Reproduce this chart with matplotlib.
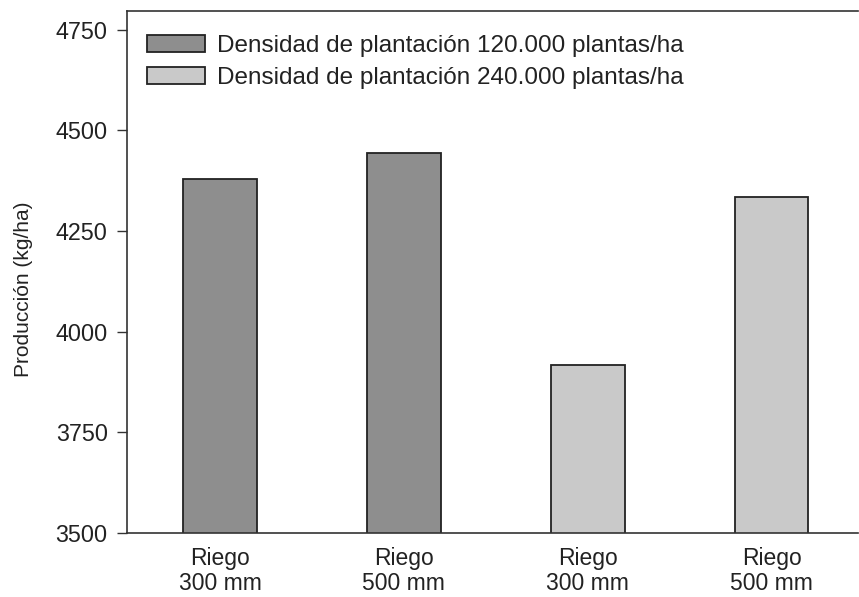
import matplotlib

matplotlib.use("Agg")
import matplotlib.pyplot as plt
import numpy as np

# datos
categorias = ["Riego\n300 mm", "Riego\n500 mm", "Riego\n300 mm", "Riego\n500 mm"]
produccion = [4380, 4444, 3917, 4335]
grupo = [0, 0, 1, 1]
etiquetas_serie = [
    "Densidad de plantación 120.000 plantas/ha",
    "Densidad de plantación 240.000 plantas/ha",
]
colores_serie = ["#8e8e8e", "#c9c9c9"]
yticks = [3500, 3750, 4000, 4250, 4500, 4750]

plt.rcParams["font.family"] = ["Liberation Sans", "DejaVu Sans"]

fig = plt.figure(figsize=(8.59, 5.97), dpi=100)
ax = fig.add_axes([0.148, 0.107, 0.851, 0.875])

x = np.arange(len(categorias))
for i, g in enumerate(sorted(set(grupo))):
    idx = [k for k, gg in enumerate(grupo) if gg == g]
    ax.bar(
        x[idx],
        [produccion[k] for k in idx],
        width=0.4,
        color=colores_serie[i],
        edgecolor="#222222",
        linewidth=1.3,
        label=etiquetas_serie[i],
        zorder=2,
    )

ax.set_xlim(-0.505, 3.47)
ax.set_ylim(3500, 4797)
ax.set_yticks(yticks)
ax.set_yticklabels([str(v) for v in yticks], fontsize=16.8, color="#222222")
ax.set_xticks(x)
ax.set_xticklabels(categorias, fontsize=16.5, color="#222222", linespacing=1.12)
ax.tick_params(axis="x", length=0, pad=10)
ax.tick_params(axis="y", length=7, width=1, pad=7, color="#333333")
ax.set_ylabel("Producción (kg/ha)", fontsize=15, color="#222222")
ax.yaxis.set_label_coords(-0.129, 0.467)

for side in ["left", "bottom", "top"]:
    ax.spines[side].set_color("#333333")
    ax.spines[side].set_linewidth(1.2)
ax.spines["right"].set_visible(False)

ax.legend(
    loc="upper left",
    bbox_to_anchor=(0.0274, 0.953),
    frameon=False,
    fontsize=17.5,
    handlelength=2.4,
    handleheight=0.7,
    handletextpad=0.48,
    labelspacing=0.38,
    borderpad=0,
    borderaxespad=0,
    labelcolor="#222222",
)

fig.savefig("out.png", dpi=100)
